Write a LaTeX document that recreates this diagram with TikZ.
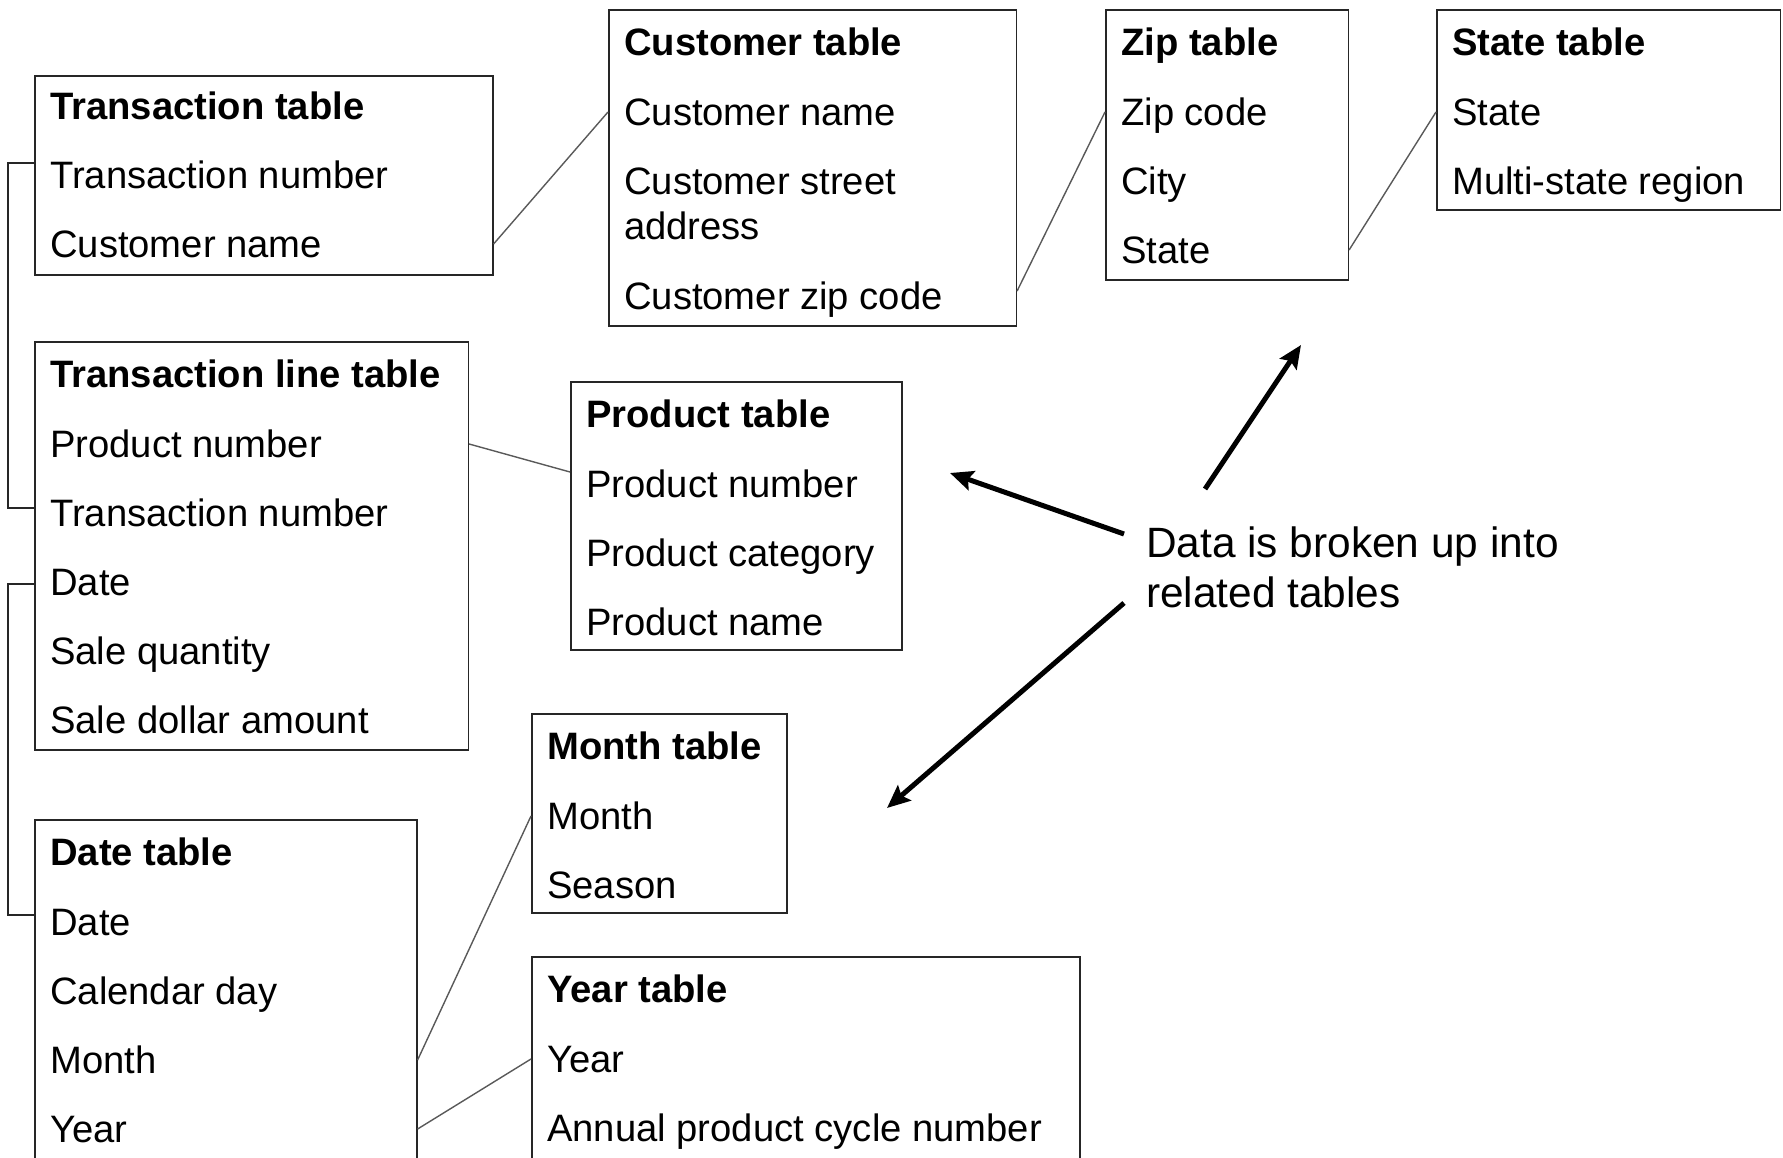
\documentclass[tikz,border=0pt]{standalone}
\usepackage{fontspec}
\setmainfont{Liberation Sans}
\usetikzlibrary{arrows.meta,calc}
\newcommand\tabfont{\fontsize{38.2pt}{45pt}\selectfont}
\newcommand\lblfont{\fontsize{42.4pt}{50pt}\selectfont}
\begin{document}
\begin{tikzpicture}[x=1pt,y=-1pt,
  tbox/.style={draw=black!85, line width=1.6pt, anchor=north west, inner sep=0pt, fill=none},
  row/.style={anchor=west, inner sep=0pt, text height=27.5pt, text depth=0pt, font=\tabfont, yshift=-2pt},
  ttl/.style={row, font=\tabfont\bfseries},
  conn/.style={draw=black!65, line width=1.4pt},
  elbow/.style={draw=black!85, line width=1.6pt},
  arr/.style={draw=black, line width=5pt, -{Stealth[length=23pt,width=20pt,inset=4pt]}}
]
\useasboundingbox (0,0) rectangle (1783,1158);

% Transaction table
\node[tbox, minimum width=458pt, minimum height=199pt] (tt) at (34,75) {};
\node[ttl] (tt0) at (50,104) {Transaction table};
\node[row] (tt1) at (50,173) {Transaction number};
\node[row] (tt2) at (50,242) {Customer name};

% Customer table
\node[tbox, minimum width=407.5pt, minimum height=316pt] (cu) at (608,9) {};
\node[ttl] (cu0) at (624,40) {Customer table};
\node[row] (cu1) at (624,110) {Customer name};
\node[row] (cu2) at (624,179) {Customer street};
\node[row] (cu2b) at (624,224) {address};
\node[row] (cu3) at (624,294) {Customer zip code};

% Zip table
\node[tbox, minimum width=242.5pt, minimum height=270pt] (zp) at (1105,9) {};
\node[ttl] (zp0) at (1121,40) {Zip table};
\node[row] (zp1) at (1121,110) {Zip code};
\node[row] (zp2) at (1121,179) {City};
\node[row] (zp3) at (1121,248) {State};

% State table
\node[tbox, minimum width=343.5pt, minimum height=200pt] (st) at (1436,9) {};
\node[ttl] (st0) at (1452,40) {State table};
\node[row] (st1) at (1452,110) {State};
\node[row] (st2) at (1452,179) {Multi-state region};

% Transaction line table
\node[tbox, minimum width=433.5pt, minimum height=408pt] (tlt) at (34,341) {};
\node[ttl] (tlt0) at (50,372) {Transaction line table};
\node[row] (tlt1) at (50,442) {Product number};
\node[row] (tlt2) at (50,511) {Transaction number};
\node[row] (tlt3) at (50,580) {Date};
\node[row] (tlt4) at (50,649) {Sale quantity};
\node[row] (tlt5) at (50,718) {Sale dollar amount};

% Product table
\node[tbox, minimum width=331pt, minimum height=268pt] (pr) at (570,381) {};
\node[ttl] (pr0) at (586,412) {Product table};
\node[row] (pr1) at (586,482) {Product number};
\node[row] (pr2) at (586,551) {Product category};
\node[row] (pr3) at (586,620) {Product name};

% Month table
\node[tbox, minimum width=255pt, minimum height=199pt] (mo) at (531,713) {};
\node[ttl] (mo0) at (547,744) {Month table};
\node[row] (mo1) at (547,814) {Month};
\node[row] (mo2) at (547,883) {Season};

% Date table
\node[tbox, minimum width=382pt, minimum height=345pt] (dt) at (34,819) {};
\node[ttl] (dt0) at (50,850) {Date table};
\node[row] (dt1) at (50,920) {Date};
\node[row] (dt2) at (50,989) {Calendar day};
\node[row] (dt3) at (50,1058) {Month};
\node[row] (dt4) at (50,1127) {Year};

% Year table
\node[tbox, minimum width=548pt, minimum height=208pt] (yr) at (531,956) {};
\node[ttl] (yr0) at (547,987) {Year table};
\node[row] (yr1) at (547,1057) {Year};
\node[row] (yr2) at (547,1126) {Annual product cycle number};

% thin connectors
\draw[conn] (tt.east |- tt2) -- (cu.west |- cu1);
\draw[conn] ($(cu.east |- cu3)+(0,-5)$) -- (zp.west |- zp1);
\draw[conn] (zp.east |- zp3) -- (st.west |- st1);
\draw[conn] (tlt.east |- tlt1) -- ($(pr.west |- pr1)+(0,-12)$);
\draw[conn] (dt.east |- dt3) -- (mo.west |- mo1);
\draw[conn] (dt.east |- dt4) -- (yr.west |- yr1);

% elbow connectors
\draw[elbow] ($(tt.west |- tt1)+(0,-12)$) -- ++(-26,0) |- ($(tlt.west |- tlt2)+(0,-5)$);
\draw[elbow] ($(tlt.west |- tlt3)+(0,2)$) -- ++(-26,0) |- ($(dt.west |- dt1)+(0,-7)$);

% callout
\node[anchor=north west, inner sep=0pt, align=left, font=\lblfont] (lbl) at (1146,527) {Data is broken up into\\related tables};
\coordinate (a1s) at (1205,489);
\coordinate (a1e) at (1301,345);
\coordinate (a2s) at (1124,534);
\coordinate (a2e) at (950,473);
\coordinate (a3s) at (1124,603);
\coordinate (a3e) at (887,808);
\draw[arr] (a1s) -- (a1e);
\draw[arr] (a2s) -- (a2e);
\draw[arr] (a3s) -- (a3e);
\end{tikzpicture}
\end{document}
